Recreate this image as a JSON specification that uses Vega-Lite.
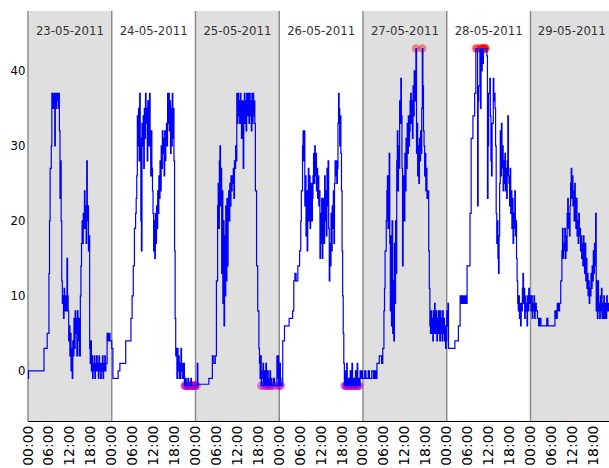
{
"$schema": "https://vega.github.io/schema/vega-lite/v6.json",
"width": 581, "height": 410,
"autosize": {"type": "none"},
"padding": {"left": 28, "top": 11, "right": 0, "bottom": 47},
"background": "white",
"config": {"view": {"stroke": null}, "font": "DejaVu Sans"},
"datasets": {
"days": [
{"start":"2011-05-23 00:00","end":"2011-05-24 00:00","mid":"2011-05-23 12:00","label":"23-05-2011","shade":"grey"},
{"start":"2011-05-24 00:00","end":"2011-05-25 00:00","mid":"2011-05-24 12:00","label":"24-05-2011","shade":"white"},
{"start":"2011-05-25 00:00","end":"2011-05-26 00:00","mid":"2011-05-25 12:00","label":"25-05-2011","shade":"grey"},
{"start":"2011-05-26 00:00","end":"2011-05-27 00:00","mid":"2011-05-26 12:00","label":"26-05-2011","shade":"white"},
{"start":"2011-05-27 00:00","end":"2011-05-28 00:00","mid":"2011-05-27 12:00","label":"27-05-2011","shade":"grey"},
{"start":"2011-05-28 00:00","end":"2011-05-29 00:00","mid":"2011-05-28 12:00","label":"28-05-2011","shade":"white"},
{"start":"2011-05-29 00:00","end":"2011-05-30 00:00","mid":"2011-05-29 11:50","label":"29-05-2011","shade":"grey"}
],
"series": [
{"t":"2011-05-23 00:00","v":-1},{"t":"2011-05-23 00:10","v":0},{"t":"2011-05-23 04:35","v":3},{"t":"2011-05-23 05:30","v":5},{"t":"2011-05-23 06:00","v":13},{"t":"2011-05-23 06:10","v":20},{"t":"2011-05-23 06:20","v":27},{"t":"2011-05-23 06:40","v":30},{"t":"2011-05-23 06:50","v":37},{"t":"2011-05-23 07:00","v":35},{"t":"2011-05-23 07:10","v":37},{"t":"2011-05-23 07:20","v":35},{"t":"2011-05-23 07:30","v":37},{"t":"2011-05-23 07:40","v":30},{"t":"2011-05-23 07:50","v":37},{"t":"2011-05-23 08:00","v":35},{"t":"2011-05-23 08:10","v":37},{"t":"2011-05-23 08:20","v":36},{"t":"2011-05-23 08:30","v":37},{"t":"2011-05-23 08:40","v":35},{"t":"2011-05-23 08:50","v":37},{"t":"2011-05-23 09:00","v":32},{"t":"2011-05-23 09:10","v":23},{"t":"2011-05-23 09:20","v":28},{"t":"2011-05-23 09:30","v":20},{"t":"2011-05-23 09:40","v":12},{"t":"2011-05-23 09:50","v":9},{"t":"2011-05-23 10:00","v":10},{"t":"2011-05-23 10:10","v":7},{"t":"2011-05-23 10:20","v":11},{"t":"2011-05-23 10:30","v":8},{"t":"2011-05-23 10:40","v":10},{"t":"2011-05-23 10:50","v":9},{"t":"2011-05-23 11:00","v":8},{"t":"2011-05-23 11:10","v":15},{"t":"2011-05-23 11:20","v":10},{"t":"2011-05-23 11:30","v":8},{"t":"2011-05-23 11:40","v":4},{"t":"2011-05-23 11:50","v":6},{"t":"2011-05-23 12:00","v":2},{"t":"2011-05-23 12:10","v":5},{"t":"2011-05-23 12:20","v":0},{"t":"2011-05-23 12:30","v":3},{"t":"2011-05-23 12:40","v":-1},{"t":"2011-05-23 12:50","v":4},{"t":"2011-05-23 13:00","v":2},{"t":"2011-05-23 13:10","v":7},{"t":"2011-05-23 13:20","v":3},{"t":"2011-05-23 13:30","v":8},{"t":"2011-05-23 13:40","v":5},{"t":"2011-05-23 13:50","v":7},{"t":"2011-05-23 14:00","v":2},{"t":"2011-05-23 14:10","v":8},{"t":"2011-05-23 14:20","v":4},{"t":"2011-05-23 14:30","v":7},{"t":"2011-05-23 14:40","v":2},{"t":"2011-05-23 15:00","v":10},{"t":"2011-05-23 15:10","v":14},{"t":"2011-05-23 15:20","v":17},{"t":"2011-05-23 15:30","v":20},{"t":"2011-05-23 15:40","v":17},{"t":"2011-05-23 15:50","v":21},{"t":"2011-05-23 16:00","v":19},{"t":"2011-05-23 16:10","v":24},{"t":"2011-05-23 16:20","v":19},{"t":"2011-05-23 16:30","v":22},{"t":"2011-05-23 16:40","v":17},{"t":"2011-05-23 16:50","v":28},{"t":"2011-05-23 17:00","v":20},{"t":"2011-05-23 17:10","v":22},{"t":"2011-05-23 17:20","v":16},{"t":"2011-05-23 17:30","v":18},{"t":"2011-05-23 17:40","v":3},{"t":"2011-05-23 17:50","v":1},{"t":"2011-05-23 18:00","v":4},{"t":"2011-05-23 18:10","v":0},{"t":"2011-05-23 18:20","v":2},{"t":"2011-05-23 18:30","v":-1},{"t":"2011-05-23 18:40","v":1},{"t":"2011-05-23 18:50","v":0},{"t":"2011-05-23 19:00","v":2},{"t":"2011-05-23 19:10","v":-1},{"t":"2011-05-23 19:20","v":1},{"t":"2011-05-23 19:30","v":0},{"t":"2011-05-23 19:40","v":2},{"t":"2011-05-23 19:50","v":0},{"t":"2011-05-23 20:00","v":1},{"t":"2011-05-23 20:10","v":-1},{"t":"2011-05-23 20:20","v":2},{"t":"2011-05-23 20:30","v":0},{"t":"2011-05-23 20:40","v":1},{"t":"2011-05-23 20:50","v":-1},{"t":"2011-05-23 21:00","v":1},{"t":"2011-05-23 21:10","v":0},{"t":"2011-05-23 21:20","v":2},{"t":"2011-05-23 21:30","v":-1},{"t":"2011-05-23 21:40","v":1},{"t":"2011-05-23 21:50","v":0},{"t":"2011-05-23 22:00","v":2},{"t":"2011-05-23 22:10","v":0},{"t":"2011-05-23 22:20","v":1},{"t":"2011-05-23 22:40","v":5},{"t":"2011-05-23 23:00","v":4},{"t":"2011-05-23 23:10","v":5},{"t":"2011-05-23 23:30","v":4},
{"t":"2011-05-24 00:00","v":3},{"t":"2011-05-24 00:20","v":-1},{"t":"2011-05-24 01:50","v":0},{"t":"2011-05-24 02:20","v":1},{"t":"2011-05-24 04:00","v":4},{"t":"2011-05-24 05:00","v":4},{"t":"2011-05-24 05:30","v":7},{"t":"2011-05-24 05:50","v":10},{"t":"2011-05-24 06:10","v":14},{"t":"2011-05-24 06:30","v":19},{"t":"2011-05-24 06:50","v":21},{"t":"2011-05-24 07:00","v":23},{"t":"2011-05-24 07:10","v":26},{"t":"2011-05-24 07:20","v":34},{"t":"2011-05-24 07:30","v":30},{"t":"2011-05-24 07:40","v":35},{"t":"2011-05-24 07:50","v":28},{"t":"2011-05-24 08:00","v":37},{"t":"2011-05-24 08:10","v":31},{"t":"2011-05-24 08:20","v":20},{"t":"2011-05-24 08:30","v":16},{"t":"2011-05-24 08:40","v":33},{"t":"2011-05-24 08:50","v":30},{"t":"2011-05-24 09:00","v":34},{"t":"2011-05-24 09:10","v":27},{"t":"2011-05-24 09:20","v":35},{"t":"2011-05-24 09:30","v":31},{"t":"2011-05-24 09:40","v":37},{"t":"2011-05-24 09:50","v":33},{"t":"2011-05-24 10:00","v":35},{"t":"2011-05-24 10:10","v":28},{"t":"2011-05-24 10:20","v":36},{"t":"2011-05-24 10:30","v":30},{"t":"2011-05-24 10:40","v":32},{"t":"2011-05-24 10:50","v":37},{"t":"2011-05-24 11:00","v":30},{"t":"2011-05-24 11:10","v":26},{"t":"2011-05-24 11:20","v":32},{"t":"2011-05-24 11:30","v":27},{"t":"2011-05-24 11:40","v":24},{"t":"2011-05-24 11:50","v":21},{"t":"2011-05-24 12:00","v":16},{"t":"2011-05-24 12:10","v":20},{"t":"2011-05-24 12:20","v":15},{"t":"2011-05-24 12:30","v":21},{"t":"2011-05-24 12:40","v":17},{"t":"2011-05-24 12:50","v":22},{"t":"2011-05-24 13:00","v":19},{"t":"2011-05-24 13:10","v":24},{"t":"2011-05-24 13:20","v":21},{"t":"2011-05-24 13:30","v":26},{"t":"2011-05-24 13:40","v":23},{"t":"2011-05-24 13:50","v":28},{"t":"2011-05-24 14:00","v":24},{"t":"2011-05-24 14:10","v":30},{"t":"2011-05-24 14:20","v":27},{"t":"2011-05-24 14:30","v":32},{"t":"2011-05-24 14:40","v":29},{"t":"2011-05-24 14:50","v":31},{"t":"2011-05-24 15:00","v":26},{"t":"2011-05-24 15:10","v":32},{"t":"2011-05-24 15:20","v":28},{"t":"2011-05-24 15:30","v":30},{"t":"2011-05-24 15:40","v":33},{"t":"2011-05-24 15:50","v":30},{"t":"2011-05-24 16:00","v":37},{"t":"2011-05-24 16:10","v":33},{"t":"2011-05-24 16:20","v":37},{"t":"2011-05-24 16:30","v":32},{"t":"2011-05-24 16:40","v":36},{"t":"2011-05-24 16:50","v":29},{"t":"2011-05-24 17:00","v":35},{"t":"2011-05-24 17:10","v":30},{"t":"2011-05-24 17:20","v":37},{"t":"2011-05-24 17:30","v":31},{"t":"2011-05-24 17:40","v":35},{"t":"2011-05-24 17:50","v":28},{"t":"2011-05-24 18:00","v":16},{"t":"2011-05-24 18:10","v":7},{"t":"2011-05-24 18:20","v":2},{"t":"2011-05-24 18:30","v":3},{"t":"2011-05-24 18:40","v":-1},{"t":"2011-05-24 18:50","v":3},{"t":"2011-05-24 19:00","v":0},{"t":"2011-05-24 19:10","v":2},{"t":"2011-05-24 19:20","v":-1},{"t":"2011-05-24 19:30","v":1},{"t":"2011-05-24 19:40","v":-1},{"t":"2011-05-24 19:50","v":3},{"t":"2011-05-24 20:00","v":0},{"t":"2011-05-24 20:10","v":1},{"t":"2011-05-24 20:20","v":-1},{"t":"2011-05-24 20:30","v":0},{"t":"2011-05-24 20:40","v":1},{"t":"2011-05-24 20:50","v":-2},{"t":"2011-05-24 21:00","v":-2},{"t":"2011-05-24 21:10","v":-1},{"t":"2011-05-24 21:20","v":-2},{"t":"2011-05-24 21:30","v":-2},{"t":"2011-05-24 21:40","v":-2},{"t":"2011-05-24 21:50","v":-1},{"t":"2011-05-24 22:00","v":-2},{"t":"2011-05-24 22:10","v":-2},{"t":"2011-05-24 22:20","v":-2},{"t":"2011-05-24 22:30","v":-2},{"t":"2011-05-24 22:40","v":-1},{"t":"2011-05-24 22:50","v":-2},{"t":"2011-05-24 23:00","v":-2},{"t":"2011-05-24 23:10","v":-2},{"t":"2011-05-24 23:20","v":-2},{"t":"2011-05-24 23:30","v":-2},{"t":"2011-05-24 23:40","v":-2},{"t":"2011-05-24 23:50","v":-2},
{"t":"2011-05-25 00:00","v":-2},{"t":"2011-05-25 00:20","v":-2},{"t":"2011-05-25 00:30","v":1},{"t":"2011-05-25 00:40","v":-1.8},{"t":"2011-05-25 03:50","v":-1},{"t":"2011-05-25 04:50","v":2},{"t":"2011-05-25 05:15","v":1},{"t":"2011-05-25 05:40","v":2},{"t":"2011-05-25 06:00","v":12},{"t":"2011-05-25 06:20","v":22},{"t":"2011-05-25 06:30","v":25},{"t":"2011-05-25 06:40","v":19},{"t":"2011-05-25 06:50","v":28},{"t":"2011-05-25 07:00","v":30},{"t":"2011-05-25 07:10","v":22},{"t":"2011-05-25 07:20","v":27},{"t":"2011-05-25 07:30","v":13},{"t":"2011-05-25 07:40","v":24},{"t":"2011-05-25 07:50","v":9},{"t":"2011-05-25 08:00","v":20},{"t":"2011-05-25 08:10","v":6},{"t":"2011-05-25 08:20","v":18},{"t":"2011-05-25 08:30","v":10},{"t":"2011-05-25 08:40","v":22},{"t":"2011-05-25 08:50","v":12},{"t":"2011-05-25 09:00","v":23},{"t":"2011-05-25 09:10","v":14},{"t":"2011-05-25 09:20","v":21},{"t":"2011-05-25 09:30","v":24},{"t":"2011-05-25 09:40","v":20},{"t":"2011-05-25 09:50","v":25},{"t":"2011-05-25 10:00","v":22},{"t":"2011-05-25 10:10","v":26},{"t":"2011-05-25 10:20","v":24},{"t":"2011-05-25 10:30","v":26},{"t":"2011-05-25 10:40","v":25},{"t":"2011-05-25 10:50","v":27},{"t":"2011-05-25 11:00","v":23},{"t":"2011-05-25 11:10","v":28},{"t":"2011-05-25 11:20","v":27},{"t":"2011-05-25 11:30","v":30},{"t":"2011-05-25 11:40","v":28},{"t":"2011-05-25 11:50","v":37},{"t":"2011-05-25 12:00","v":33},{"t":"2011-05-25 12:10","v":37},{"t":"2011-05-25 12:20","v":34},{"t":"2011-05-25 12:30","v":36},{"t":"2011-05-25 12:40","v":33},{"t":"2011-05-25 12:50","v":37},{"t":"2011-05-25 13:00","v":35},{"t":"2011-05-25 13:10","v":31},{"t":"2011-05-25 13:20","v":36},{"t":"2011-05-25 13:40","v":27},{"t":"2011-05-25 13:50","v":35},{"t":"2011-05-25 14:00","v":37},{"t":"2011-05-25 14:10","v":33},{"t":"2011-05-25 14:20","v":36},{"t":"2011-05-25 14:30","v":32},{"t":"2011-05-25 14:40","v":37},{"t":"2011-05-25 14:50","v":34},{"t":"2011-05-25 15:00","v":37},{"t":"2011-05-25 15:10","v":35},{"t":"2011-05-25 15:20","v":33},{"t":"2011-05-25 15:30","v":37},{"t":"2011-05-25 15:40","v":34},{"t":"2011-05-25 15:50","v":36},{"t":"2011-05-25 16:00","v":32},{"t":"2011-05-25 16:10","v":37},{"t":"2011-05-25 16:20","v":33},{"t":"2011-05-25 16:30","v":37},{"t":"2011-05-25 16:40","v":34},{"t":"2011-05-25 16:50","v":36},{"t":"2011-05-25 17:00","v":33},{"t":"2011-05-25 17:10","v":24},{"t":"2011-05-25 17:30","v":14},{"t":"2011-05-25 17:50","v":8},{"t":"2011-05-25 18:10","v":3},{"t":"2011-05-25 18:20","v":1},{"t":"2011-05-25 18:30","v":-1},{"t":"2011-05-25 18:40","v":2},{"t":"2011-05-25 18:50","v":-2},{"t":"2011-05-25 19:00","v":0},{"t":"2011-05-25 19:10","v":-1},{"t":"2011-05-25 19:20","v":1},{"t":"2011-05-25 19:30","v":-2},{"t":"2011-05-25 19:40","v":0},{"t":"2011-05-25 19:50","v":-1},{"t":"2011-05-25 20:00","v":-2},{"t":"2011-05-25 20:10","v":1},{"t":"2011-05-25 20:20","v":-1},{"t":"2011-05-25 20:30","v":-2},{"t":"2011-05-25 20:40","v":0},{"t":"2011-05-25 20:50","v":-2},{"t":"2011-05-25 21:00","v":-1},{"t":"2011-05-25 21:10","v":-2},{"t":"2011-05-25 21:20","v":0},{"t":"2011-05-25 21:30","v":-2},{"t":"2011-05-25 21:40","v":-1},{"t":"2011-05-25 21:50","v":-2},{"t":"2011-05-25 22:20","v":-1},{"t":"2011-05-25 22:40","v":-2},{"t":"2011-05-25 23:20","v":2},{"t":"2011-05-25 23:30","v":-1},{"t":"2011-05-25 23:40","v":2},{"t":"2011-05-25 23:50","v":-2},
{"t":"2011-05-26 00:00","v":-2},{"t":"2011-05-26 00:10","v":1},{"t":"2011-05-26 00:20","v":-1},{"t":"2011-05-26 00:30","v":-2},{"t":"2011-05-26 01:00","v":4},{"t":"2011-05-26 01:30","v":6},{"t":"2011-05-26 02:50","v":7},{"t":"2011-05-26 03:50","v":8},{"t":"2011-05-26 04:10","v":12},{"t":"2011-05-26 04:30","v":13},{"t":"2011-05-26 04:50","v":12},{"t":"2011-05-26 05:20","v":14},{"t":"2011-05-26 05:50","v":16},{"t":"2011-05-26 06:10","v":20},{"t":"2011-05-26 06:20","v":24},{"t":"2011-05-26 06:40","v":30},{"t":"2011-05-26 06:50","v":32},{"t":"2011-05-26 07:00","v":28},{"t":"2011-05-26 07:10","v":32},{"t":"2011-05-26 07:20","v":22},{"t":"2011-05-26 07:30","v":26},{"t":"2011-05-26 07:40","v":18},{"t":"2011-05-26 07:50","v":24},{"t":"2011-05-26 08:00","v":16},{"t":"2011-05-26 08:10","v":21},{"t":"2011-05-26 08:20","v":27},{"t":"2011-05-26 08:30","v":20},{"t":"2011-05-26 08:40","v":26},{"t":"2011-05-26 08:50","v":19},{"t":"2011-05-26 09:00","v":22},{"t":"2011-05-26 09:10","v":25},{"t":"2011-05-26 09:20","v":20},{"t":"2011-05-26 09:30","v":23},{"t":"2011-05-26 09:40","v":26},{"t":"2011-05-26 09:50","v":29},{"t":"2011-05-26 10:00","v":25},{"t":"2011-05-26 10:10","v":30},{"t":"2011-05-26 10:20","v":26},{"t":"2011-05-26 10:30","v":29},{"t":"2011-05-26 10:40","v":24},{"t":"2011-05-26 10:50","v":27},{"t":"2011-05-26 11:00","v":23},{"t":"2011-05-26 11:10","v":26},{"t":"2011-05-26 11:20","v":22},{"t":"2011-05-26 11:30","v":24},{"t":"2011-05-26 11:40","v":15},{"t":"2011-05-26 11:50","v":21},{"t":"2011-05-26 12:00","v":17},{"t":"2011-05-26 12:10","v":23},{"t":"2011-05-26 12:20","v":15},{"t":"2011-05-26 12:30","v":19},{"t":"2011-05-26 12:40","v":23},{"t":"2011-05-26 12:50","v":17},{"t":"2011-05-26 13:00","v":26},{"t":"2011-05-26 13:10","v":20},{"t":"2011-05-26 13:20","v":24},{"t":"2011-05-26 13:30","v":18},{"t":"2011-05-26 13:40","v":27},{"t":"2011-05-26 13:50","v":22},{"t":"2011-05-26 14:00","v":28},{"t":"2011-05-26 14:10","v":19},{"t":"2011-05-26 14:20","v":12},{"t":"2011-05-26 14:30","v":17},{"t":"2011-05-26 14:40","v":14},{"t":"2011-05-26 14:50","v":21},{"t":"2011-05-26 15:00","v":16},{"t":"2011-05-26 15:10","v":22},{"t":"2011-05-26 15:20","v":19},{"t":"2011-05-26 15:30","v":24},{"t":"2011-05-26 15:40","v":17},{"t":"2011-05-26 15:50","v":25},{"t":"2011-05-26 16:00","v":28},{"t":"2011-05-26 16:10","v":26},{"t":"2011-05-26 16:20","v":28},{"t":"2011-05-26 16:30","v":25},{"t":"2011-05-26 16:40","v":27},{"t":"2011-05-26 16:50","v":33},{"t":"2011-05-26 17:00","v":37},{"t":"2011-05-26 17:10","v":35},{"t":"2011-05-26 17:20","v":30},{"t":"2011-05-26 17:30","v":34},{"t":"2011-05-26 17:40","v":29},{"t":"2011-05-26 17:50","v":24},{"t":"2011-05-26 18:00","v":16},{"t":"2011-05-26 18:10","v":10},{"t":"2011-05-26 18:20","v":5},{"t":"2011-05-26 18:30","v":1},{"t":"2011-05-26 18:40","v":-2},{"t":"2011-05-26 18:50","v":0},{"t":"2011-05-26 19:00","v":-2},{"t":"2011-05-26 19:10","v":-2},{"t":"2011-05-26 19:20","v":1},{"t":"2011-05-26 19:30","v":-2},{"t":"2011-05-26 19:40","v":-2},{"t":"2011-05-26 19:50","v":-1},{"t":"2011-05-26 20:00","v":-2},{"t":"2011-05-26 20:10","v":-2},{"t":"2011-05-26 20:20","v":0},{"t":"2011-05-26 20:30","v":-2},{"t":"2011-05-26 20:40","v":-2},{"t":"2011-05-26 20:50","v":1},{"t":"2011-05-26 21:00","v":-2},{"t":"2011-05-26 21:10","v":-2},{"t":"2011-05-26 21:20","v":-1},{"t":"2011-05-26 21:30","v":-2},{"t":"2011-05-26 21:40","v":-2},{"t":"2011-05-26 21:50","v":0},{"t":"2011-05-26 22:00","v":-2},{"t":"2011-05-26 22:10","v":-2},{"t":"2011-05-26 22:20","v":1},{"t":"2011-05-26 22:30","v":-2},{"t":"2011-05-26 22:40","v":-2},{"t":"2011-05-26 22:50","v":-1},{"t":"2011-05-26 23:00","v":-2},{"t":"2011-05-26 23:10","v":0},{"t":"2011-05-26 23:20","v":-1},{"t":"2011-05-26 23:40","v":0},{"t":"2011-05-26 23:50","v":-1},
{"t":"2011-05-27 00:00","v":-1},{"t":"2011-05-27 00:30","v":0},{"t":"2011-05-27 00:50","v":-1},{"t":"2011-05-27 01:30","v":0},{"t":"2011-05-27 01:50","v":-1},{"t":"2011-05-27 02:30","v":0},{"t":"2011-05-27 03:00","v":-1},{"t":"2011-05-27 03:20","v":0},{"t":"2011-05-27 03:40","v":-1},{"t":"2011-05-27 04:00","v":1},{"t":"2011-05-27 04:40","v":2},{"t":"2011-05-27 05:20","v":1},{"t":"2011-05-27 05:40","v":3},{"t":"2011-05-27 06:00","v":8},{"t":"2011-05-27 06:10","v":11},{"t":"2011-05-27 06:20","v":16},{"t":"2011-05-27 06:40","v":20},{"t":"2011-05-27 06:50","v":24},{"t":"2011-05-27 07:00","v":26},{"t":"2011-05-27 07:10","v":19},{"t":"2011-05-27 07:20","v":22},{"t":"2011-05-27 07:30","v":29},{"t":"2011-05-27 07:40","v":17},{"t":"2011-05-27 07:50","v":8},{"t":"2011-05-27 08:00","v":18},{"t":"2011-05-27 08:10","v":6},{"t":"2011-05-27 08:20","v":20},{"t":"2011-05-27 08:30","v":5},{"t":"2011-05-27 08:40","v":12},{"t":"2011-05-27 08:50","v":4},{"t":"2011-05-27 09:00","v":17},{"t":"2011-05-27 09:10","v":9},{"t":"2011-05-27 09:20","v":20},{"t":"2011-05-27 09:30","v":13},{"t":"2011-05-27 09:40","v":28},{"t":"2011-05-27 09:50","v":32},{"t":"2011-05-27 10:00","v":24},{"t":"2011-05-27 10:10","v":30},{"t":"2011-05-27 10:20","v":27},{"t":"2011-05-27 10:30","v":36},{"t":"2011-05-27 10:40","v":33},{"t":"2011-05-27 10:50","v":39},{"t":"2011-05-27 11:00","v":34},{"t":"2011-05-27 11:10","v":27},{"t":"2011-05-27 11:20","v":14},{"t":"2011-05-27 11:30","v":22},{"t":"2011-05-27 11:40","v":26},{"t":"2011-05-27 11:50","v":20},{"t":"2011-05-27 12:00","v":29},{"t":"2011-05-27 12:10","v":24},{"t":"2011-05-27 12:20","v":31},{"t":"2011-05-27 12:30","v":27},{"t":"2011-05-27 12:40","v":33},{"t":"2011-05-27 12:50","v":29},{"t":"2011-05-27 13:00","v":34},{"t":"2011-05-27 13:10","v":30},{"t":"2011-05-27 13:20","v":32},{"t":"2011-05-27 13:30","v":36},{"t":"2011-05-27 13:40","v":37},{"t":"2011-05-27 13:50","v":33},{"t":"2011-05-27 14:00","v":36},{"t":"2011-05-27 14:10","v":31},{"t":"2011-05-27 14:20","v":38},{"t":"2011-05-27 14:30","v":34},{"t":"2011-05-27 14:40","v":40},{"t":"2011-05-27 14:50","v":36},{"t":"2011-05-27 15:00","v":39},{"t":"2011-05-27 15:10","v":43},{"t":"2011-05-27 15:20","v":29},{"t":"2011-05-27 15:30","v":33},{"t":"2011-05-27 15:40","v":26},{"t":"2011-05-27 15:50","v":30},{"t":"2011-05-27 16:00","v":25},{"t":"2011-05-27 16:10","v":31},{"t":"2011-05-27 16:20","v":28},{"t":"2011-05-27 16:30","v":32},{"t":"2011-05-27 16:40","v":29},{"t":"2011-05-27 16:50","v":35},{"t":"2011-05-27 17:00","v":43},{"t":"2011-05-27 17:10","v":38},{"t":"2011-05-27 17:20","v":32},{"t":"2011-05-27 17:30","v":30},{"t":"2011-05-27 17:40","v":26},{"t":"2011-05-27 17:50","v":29},{"t":"2011-05-27 18:00","v":24},{"t":"2011-05-27 18:10","v":27},{"t":"2011-05-27 18:20","v":23},{"t":"2011-05-27 18:30","v":24},{"t":"2011-05-27 18:50","v":16},{"t":"2011-05-27 19:00","v":11},{"t":"2011-05-27 19:10","v":6},{"t":"2011-05-27 19:20","v":5},{"t":"2011-05-27 19:30","v":8},{"t":"2011-05-27 19:40","v":5},{"t":"2011-05-27 19:50","v":7},{"t":"2011-05-27 20:00","v":4},{"t":"2011-05-27 20:10","v":8},{"t":"2011-05-27 20:20","v":5},{"t":"2011-05-27 20:30","v":9},{"t":"2011-05-27 20:40","v":6},{"t":"2011-05-27 20:50","v":5},{"t":"2011-05-27 21:00","v":8},{"t":"2011-05-27 21:10","v":4},{"t":"2011-05-27 21:20","v":7},{"t":"2011-05-27 21:30","v":5},{"t":"2011-05-27 21:40","v":8},{"t":"2011-05-27 21:50","v":6},{"t":"2011-05-27 22:00","v":4},{"t":"2011-05-27 22:10","v":8},{"t":"2011-05-27 22:20","v":5},{"t":"2011-05-27 22:30","v":7},{"t":"2011-05-27 22:40","v":4},{"t":"2011-05-27 22:50","v":8},{"t":"2011-05-27 23:00","v":5},{"t":"2011-05-27 23:10","v":7},{"t":"2011-05-27 23:20","v":4},{"t":"2011-05-27 23:30","v":6},{"t":"2011-05-27 23:40","v":3},{"t":"2011-05-27 23:50","v":4},
{"t":"2011-05-28 00:00","v":8},{"t":"2011-05-28 00:10","v":6},{"t":"2011-05-28 00:20","v":9},{"t":"2011-05-28 00:30","v":3},{"t":"2011-05-28 02:20","v":4},{"t":"2011-05-28 03:20","v":6},{"t":"2011-05-28 03:50","v":10},{"t":"2011-05-28 04:10","v":9},{"t":"2011-05-28 04:30","v":10},{"t":"2011-05-28 04:50","v":9},{"t":"2011-05-28 05:10","v":10},{"t":"2011-05-28 05:30","v":9},{"t":"2011-05-28 05:50","v":14},{"t":"2011-05-28 06:40","v":21},{"t":"2011-05-28 07:00","v":31},{"t":"2011-05-28 07:30","v":34},{"t":"2011-05-28 08:00","v":37},{"t":"2011-05-28 08:20","v":43},{"t":"2011-05-28 08:40","v":43},{"t":"2011-05-28 08:50","v":22},{"t":"2011-05-28 09:00","v":36},{"t":"2011-05-28 09:10","v":38},{"t":"2011-05-28 09:30","v":43},{"t":"2011-05-28 09:40","v":35},{"t":"2011-05-28 09:50","v":43},{"t":"2011-05-28 10:00","v":40},{"t":"2011-05-28 10:10","v":43},{"t":"2011-05-28 10:20","v":41},{"t":"2011-05-28 10:30","v":43},{"t":"2011-05-28 10:40","v":43},{"t":"2011-05-28 10:50","v":43},{"t":"2011-05-28 11:00","v":43},{"t":"2011-05-28 11:10","v":43},{"t":"2011-05-28 11:30","v":42},{"t":"2011-05-28 11:40","v":23},{"t":"2011-05-28 11:50","v":30},{"t":"2011-05-28 12:00","v":37},{"t":"2011-05-28 12:20","v":39},{"t":"2011-05-28 12:30","v":34},{"t":"2011-05-28 12:40","v":28},{"t":"2011-05-28 12:50","v":26},{"t":"2011-05-28 13:00","v":33},{"t":"2011-05-28 13:20","v":39},{"t":"2011-05-28 13:30","v":36},{"t":"2011-05-28 13:40","v":37},{"t":"2011-05-28 13:50","v":35},{"t":"2011-05-28 14:00","v":30},{"t":"2011-05-28 14:10","v":21},{"t":"2011-05-28 14:20","v":17},{"t":"2011-05-28 14:30","v":20},{"t":"2011-05-28 14:40","v":15},{"t":"2011-05-28 14:50","v":13},{"t":"2011-05-28 15:00","v":18},{"t":"2011-05-28 15:10","v":25},{"t":"2011-05-28 15:20","v":32},{"t":"2011-05-28 15:30","v":26},{"t":"2011-05-28 15:40","v":33},{"t":"2011-05-28 15:50","v":27},{"t":"2011-05-28 16:00","v":30},{"t":"2011-05-28 16:10","v":24},{"t":"2011-05-28 16:20","v":28},{"t":"2011-05-28 16:30","v":25},{"t":"2011-05-28 16:40","v":29},{"t":"2011-05-28 16:50","v":24},{"t":"2011-05-28 17:00","v":27},{"t":"2011-05-28 17:10","v":23},{"t":"2011-05-28 17:20","v":28},{"t":"2011-05-28 17:30","v":34},{"t":"2011-05-28 17:40","v":26},{"t":"2011-05-28 17:50","v":25},{"t":"2011-05-28 18:00","v":22},{"t":"2011-05-28 18:10","v":27},{"t":"2011-05-28 18:20","v":21},{"t":"2011-05-28 18:30","v":24},{"t":"2011-05-28 18:40","v":19},{"t":"2011-05-28 18:50","v":23},{"t":"2011-05-28 19:00","v":17},{"t":"2011-05-28 19:10","v":21},{"t":"2011-05-28 19:20","v":19},{"t":"2011-05-28 19:30","v":24},{"t":"2011-05-28 19:40","v":18},{"t":"2011-05-28 19:50","v":20},{"t":"2011-05-28 20:00","v":15},{"t":"2011-05-28 20:10","v":12},{"t":"2011-05-28 20:20","v":9},{"t":"2011-05-28 20:30","v":8},{"t":"2011-05-28 20:40","v":10},{"t":"2011-05-28 20:50","v":7},{"t":"2011-05-28 21:00","v":9},{"t":"2011-05-28 21:10","v":6},{"t":"2011-05-28 21:20","v":9},{"t":"2011-05-28 21:30","v":8},{"t":"2011-05-28 21:40","v":11},{"t":"2011-05-28 21:50","v":13},{"t":"2011-05-28 22:00","v":9},{"t":"2011-05-28 22:10","v":11},{"t":"2011-05-28 22:20","v":7},{"t":"2011-05-28 22:30","v":10},{"t":"2011-05-28 22:40","v":8},{"t":"2011-05-28 22:50","v":9},{"t":"2011-05-28 23:00","v":6},{"t":"2011-05-28 23:10","v":10},{"t":"2011-05-28 23:20","v":8},{"t":"2011-05-28 23:30","v":11},{"t":"2011-05-28 23:40","v":9},{"t":"2011-05-28 23:50","v":10},
{"t":"2011-05-29 00:00","v":10},{"t":"2011-05-29 00:10","v":8},{"t":"2011-05-29 00:20","v":10},{"t":"2011-05-29 00:30","v":7},{"t":"2011-05-29 00:40","v":9},{"t":"2011-05-29 00:50","v":8},{"t":"2011-05-29 01:00","v":10},{"t":"2011-05-29 01:10","v":7},{"t":"2011-05-29 01:20","v":9},{"t":"2011-05-29 01:40","v":8},{"t":"2011-05-29 02:00","v":7},{"t":"2011-05-29 02:20","v":6},{"t":"2011-05-29 02:40","v":7},{"t":"2011-05-29 03:00","v":6},{"t":"2011-05-29 04:40","v":7},{"t":"2011-05-29 05:00","v":6},{"t":"2011-05-29 06:30","v":6},{"t":"2011-05-29 07:00","v":8},{"t":"2011-05-29 07:20","v":7},{"t":"2011-05-29 07:40","v":9},{"t":"2011-05-29 08:00","v":8},{"t":"2011-05-29 08:20","v":9},{"t":"2011-05-29 08:40","v":12},{"t":"2011-05-29 09:00","v":16},{"t":"2011-05-29 09:10","v":19},{"t":"2011-05-29 09:20","v":15},{"t":"2011-05-29 09:30","v":17},{"t":"2011-05-29 09:40","v":16},{"t":"2011-05-29 09:50","v":19},{"t":"2011-05-29 10:00","v":15},{"t":"2011-05-29 10:10","v":18},{"t":"2011-05-29 10:20","v":16},{"t":"2011-05-29 10:30","v":21},{"t":"2011-05-29 10:40","v":23},{"t":"2011-05-29 10:50","v":19},{"t":"2011-05-29 11:00","v":21},{"t":"2011-05-29 11:10","v":18},{"t":"2011-05-29 11:20","v":22},{"t":"2011-05-29 11:30","v":25},{"t":"2011-05-29 11:40","v":27},{"t":"2011-05-29 11:50","v":23},{"t":"2011-05-29 12:00","v":26},{"t":"2011-05-29 12:10","v":22},{"t":"2011-05-29 12:20","v":24},{"t":"2011-05-29 12:30","v":20},{"t":"2011-05-29 12:40","v":25},{"t":"2011-05-29 12:50","v":22},{"t":"2011-05-29 13:00","v":19},{"t":"2011-05-29 13:10","v":23},{"t":"2011-05-29 13:20","v":18},{"t":"2011-05-29 13:30","v":20},{"t":"2011-05-29 13:40","v":17},{"t":"2011-05-29 13:50","v":21},{"t":"2011-05-29 14:00","v":18},{"t":"2011-05-29 14:10","v":19},{"t":"2011-05-29 14:20","v":16},{"t":"2011-05-29 14:30","v":18},{"t":"2011-05-29 14:40","v":15},{"t":"2011-05-29 14:50","v":17},{"t":"2011-05-29 15:00","v":14},{"t":"2011-05-29 15:10","v":18},{"t":"2011-05-29 15:20","v":16},{"t":"2011-05-29 15:30","v":13},{"t":"2011-05-29 15:40","v":17},{"t":"2011-05-29 15:50","v":12},{"t":"2011-05-29 16:00","v":15},{"t":"2011-05-29 16:10","v":11},{"t":"2011-05-29 16:20","v":13},{"t":"2011-05-29 16:30","v":10},{"t":"2011-05-29 16:40","v":12},{"t":"2011-05-29 16:50","v":9},{"t":"2011-05-29 17:00","v":11},{"t":"2011-05-29 17:10","v":10},{"t":"2011-05-29 17:20","v":13},{"t":"2011-05-29 17:30","v":11},{"t":"2011-05-29 17:40","v":14},{"t":"2011-05-29 17:50","v":12},{"t":"2011-05-29 18:00","v":16},{"t":"2011-05-29 18:10","v":13},{"t":"2011-05-29 18:20","v":17},{"t":"2011-05-29 18:30","v":14},{"t":"2011-05-29 18:40","v":21},{"t":"2011-05-29 18:50","v":8},{"t":"2011-05-29 19:00","v":12},{"t":"2011-05-29 19:10","v":7},{"t":"2011-05-29 19:20","v":12},{"t":"2011-05-29 19:30","v":8},{"t":"2011-05-29 19:40","v":9},{"t":"2011-05-29 19:50","v":7},{"t":"2011-05-29 20:00","v":10},{"t":"2011-05-29 20:10","v":8},{"t":"2011-05-29 20:20","v":11},{"t":"2011-05-29 20:30","v":7},{"t":"2011-05-29 20:40","v":9},{"t":"2011-05-29 20:50","v":7},{"t":"2011-05-29 21:00","v":10},{"t":"2011-05-29 21:10","v":8},{"t":"2011-05-29 21:20","v":7},{"t":"2011-05-29 21:30","v":9},{"t":"2011-05-29 21:40","v":7},{"t":"2011-05-29 21:50","v":10},{"t":"2011-05-29 22:00","v":8},{"t":"2011-05-29 22:20","v":9},{"t":"2011-05-29 22:40","v":8}
]
},
"resolve": {"axis": {"x": "independent"}},
"layer": [
{"data": {"name": "days"}, "mark": {"type": "rect", "clip": true},
 "encoding": {
  "x": {"field": "start", "type": "temporal", "axis": null},
  "x2": {"field": "end"},
  "color": {"field": "shade", "type": "nominal", "scale": {"domain": ["grey", "white"], "range": ["#dfdfdf", "#ffffff"]}, "legend": null}
 }},
{"data": {"name": "days"}, "mark": {"type": "rule", "color": "#8c8c8c", "strokeWidth": 1.5},
 "encoding": {
  "x": {"field": "start", "type": "temporal",
   "axis": {"orient": "top", "title": null, "labels": false, "tickCount": 28, "tickColor": "black", "domainColor": "black", "tickSize": -5, "grid": false}}
 }},
{"data": {"name": "days"}, "mark": {"type": "text", "font": "DejaVu Sans Condensed", "fontSize": 13, "color": "#333333", "baseline": "middle", "align": "center"},
 "encoding": {
  "x": {"field": "mid", "type": "temporal", "axis": null},
  "y": {"datum": 45.3, "type": "quantitative"},
  "text": {"field": "label"}
 }},
{"data": {"name": "series"}, "transform": [{"filter": "datum.v <= -2 || datum.v >= 43"}],
 "mark": {"type": "circle", "size": 70, "opacity": 0.42, "clip": true},
 "encoding": {
  "x": {"field": "t", "type": "temporal", "axis": null},
  "y": {"field": "v", "type": "quantitative"},
  "color": {"condition": {"test": "datum.v >= 43", "value": "#ff0000"}, "value": "#bf00bf"}
 }},
{"data": {"name": "series"}, "mark": {"type": "line", "interpolate": "step-after", "color": "#0000ff", "strokeWidth": 1.2, "clip": true},
 "encoding": {
  "x": {"field": "t", "type": "temporal",
   "scale": {"domain": [{"year": 2011, "month": 5, "date": 23}, {"year": 2011, "month": 5, "date": 29, "hours": 22, "minutes": 30}], "nice": false},
   "axis": {"orient": "bottom", "title": null, "format": "%H:%M", "tickCount": 28, "labelAngle": 270, "labelAlign": "right", "labelBaseline": "middle", "labelFlush": false, "labelOverlap": false, "labelFont": "DejaVu Sans", "labelFontSize": 14, "labelColor": "black", "tickColor": "black", "domainColor": "black", "tickSize": -5, "labelPadding": 9, "grid": false}},
  "y": {"field": "v", "type": "quantitative",
   "scale": {"domain": [-6.7, 48], "nice": false, "zero": false},
   "axis": {"orient": "left", "title": null, "values": [0, 10, 20, 30, 40], "tickSize": -5, "labelPadding": 8, "labelFont": "DejaVu Sans Condensed", "labelFontSize": 13, "labelColor": "black", "tickColor": "black", "domainColor": "black", "grid": false}}
 }}
]
}
